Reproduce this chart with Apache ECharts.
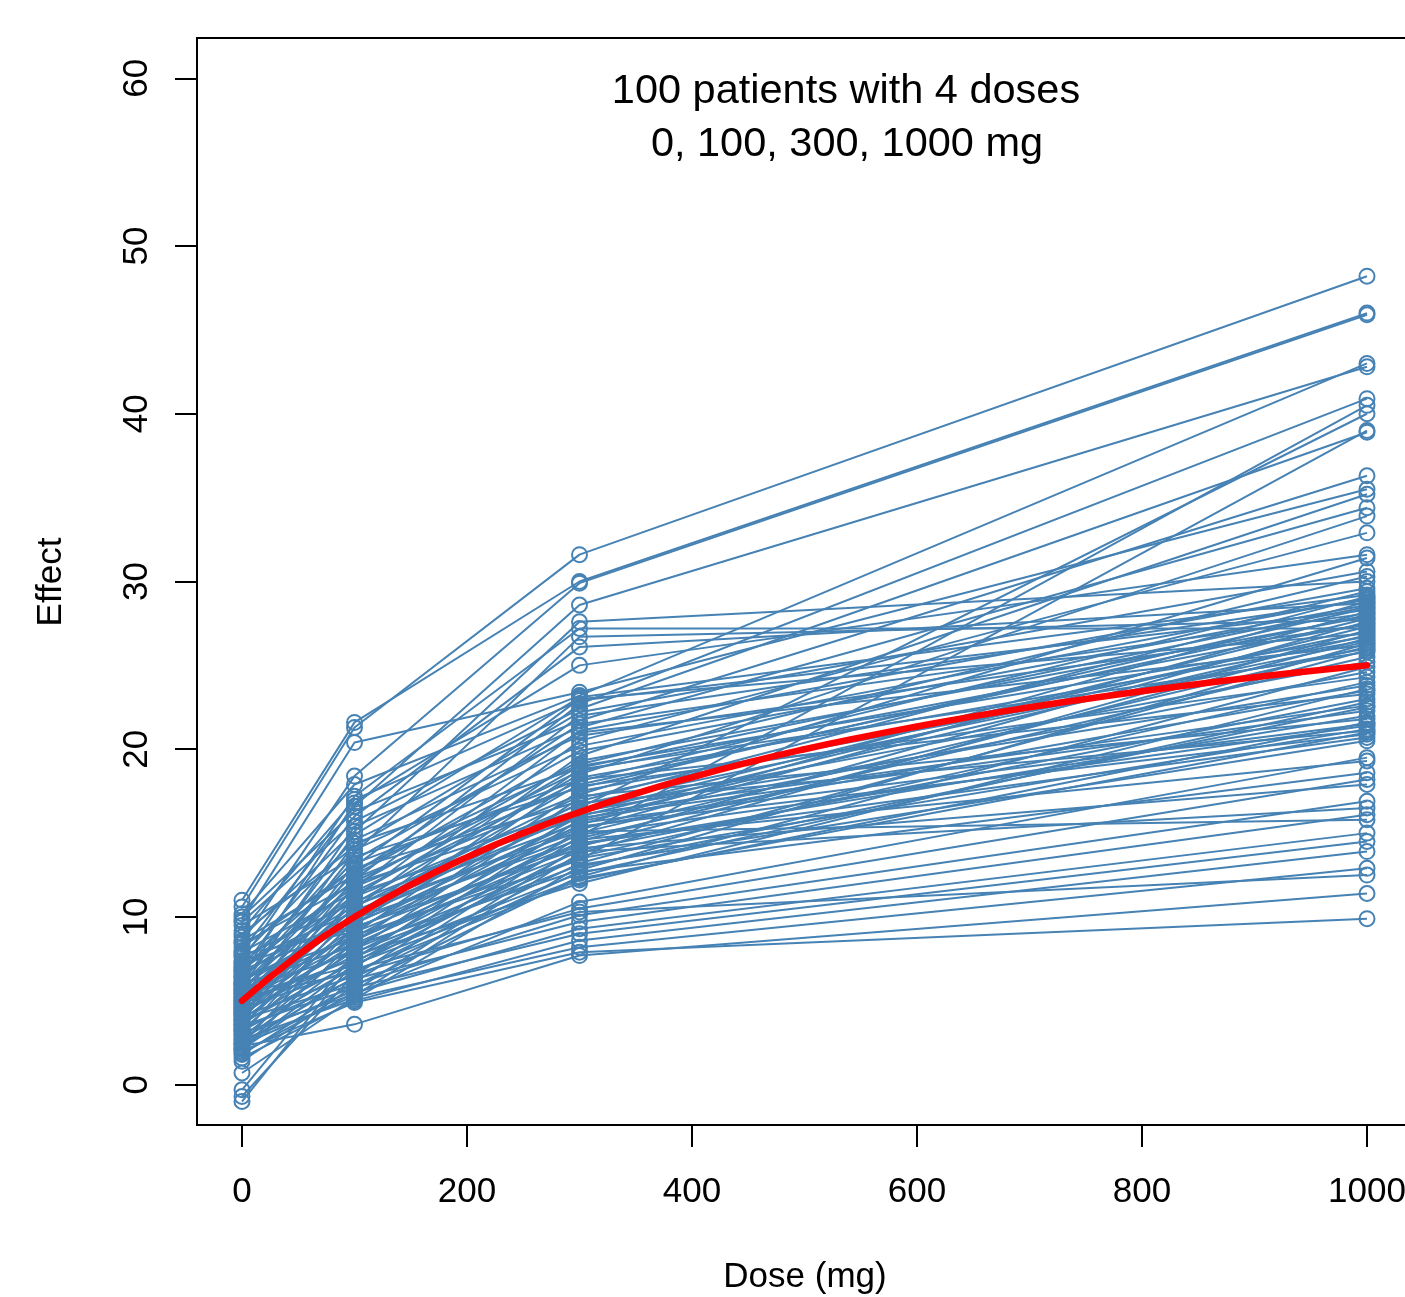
<!DOCTYPE html>
<html>
<head>
<meta charset="utf-8">
<script src="https://cdn.jsdelivr.net/npm/echarts@6/dist/echarts.min.js"></script>
<style>
  html, body { margin: 0; padding: 0; background: #fff; }
  #chart { width: 1405px; height: 1297px; }
</style>
</head>
<body>
<div id="chart"></div>
<script>
// doses on the x axis
const doses = [0, 100, 300, 1000]

// effect per patient (same patient order in every array)
const dose0 = [10.6, 11.0, 8.5, 10.2, 8.0, 6.8, 1.8, 4.4, 5.7, 9.7,
  10.0, 9.8, 4.0, 5.8, 5.0, 5.5, 6.5, 7.0, 9.0, 4.8,
  8.8, 6.05, 7.9, 6.1, 8.2, 6.7, 5.25, 2.8, 6.9, 8.6,
  5.1, 9.5, 9.2, 4.1, 5.95, 4.7, 3.8, 4.95, 5.45, 3.7,
  5.65, 7.7, 3.85, 7.4, 2.4, 3.6, 7.2, 3.2, 6.45, 2.9,
  3.25, 3.4, 6.0, 6.3, -0.3, 5.05, 5.2, 2.45, 2.15, 8.4,
  1.4, 6.2, 4.15, 4.75, 7.6, 4.35, 4.9, 4.5, 5.4, -1.0,
  7.3, 2.7, 4.6, 4.2, 4.3, 2.1, 6.6, 3.55, 2.6, 7.1,
  2.2, 5.9, 7.8, 5.6, 3.1, 5.3, 2.5, -0.7, 6.85, 3.9,
  6.4, 3.3, 3.0, 1.9, 3.5, 1.6, 0.7, 4.55, 2.3, 2.0]

const dose100 = [21.3, 21.6, 18.4, 17.9, 16.6, 12.2, 6.1, 9.2, 8.9, 15.7,
  16.3, 20.4, 10.0, 15.4, 10.8, 10.5, 16.8, 11.8, 14.2, 12.8,
  15.1, 11.1, 11.5, 14.9, 12.9, 14.0, 11.7, 8.2, 16.0, 12.5,
  14.4, 13.6, 17.0, 6.5, 12.6, 10.2, 11.9, 7.5, 13.8, 7.3,
  12.1, 14.6, 8.8, 17.2, 5.3, 8.0, 13.0, 7.0, 11.3, 5.6,
  9.0, 11.2, 8.3, 13.4, 7.8, 8.5, 6.7, 9.5, 8.6, 12.0,
  5.9, 9.6, 12.3, 8.1, 10.9, 7.7, 9.3, 13.2, 7.1, 7.4,
  10.3, 5.1, 11.4, 8.4, 10.6, 6.8, 10.7, 9.7, 7.6, 9.8,
  7.2, 10.1, 9.1, 7.9, 5.4, 9.9, 6.4, 6.6, 9.4, 6.0,
  8.7, 6.3, 10.4, 5.5, 5.8, 5.0, 5.2, 6.9, 3.6, 4.9]

const dose300 = [31.6, 30.0, 29.9, 23.2, 28.6, 22.7, 14.8, 16.5, 13.4, 22.4,
  21.7, 23.4, 19.6, 21.3, 18.5, 20.5, 25.0, 17.3, 22.2, 19.1,
  27.6, 21.1, 18.1, 23.1, 16.9, 20.2, 22.0, 15.5, 26.1, 19.9,
  18.9, 17.7, 22.9, 15.2, 21.5, 17.9, 19.3, 16.2, 26.7, 14.5,
  18.7, 20.8, 16.0, 27.2, 13.8, 17.1, 23.0, 15.8, 19.0, 14.2,
  18.3, 16.7, 12.8, 21.0, 15.0, 17.5, 13.2, 18.8, 14.7, 16.4,
  12.4, 15.7, 17.8, 13.6, 16.3, 12.0, 15.3, 18.2, 14.0, 12.6,
  16.1, 13.0, 15.9, 14.3, 17.2, 12.2, 15.6, 14.9, 13.5, 16.8,
  12.3, 15.4, 14.4, 13.1, 10.9, 14.6, 12.7, 10.5, 14.1, 10.1,
  13.9, 9.7, 15.1, 9.3, 9.0, 8.6, 8.2, 10.3, 7.7, 7.9]

const dose1000 = [48.2, 46.0, 45.9, 43.0, 42.8, 40.9, 40.5, 40.0, 39.0, 38.9,
  36.3, 35.5, 35.2, 34.4, 33.9, 32.9, 31.6, 31.4, 30.6, 30.3,
  30.0, 29.6, 29.4, 29.2, 29.1, 29.0, 28.9, 28.8, 28.7, 28.6,
  28.5, 28.4, 28.3, 28.2, 28.1, 28.0, 27.9, 27.8, 27.7, 27.6,
  27.5, 27.4, 27.3, 27.2, 27.1, 27.0, 26.9, 26.8, 26.7, 26.6,
  26.5, 26.4, 26.3, 26.2, 26.1, 26.0, 25.9, 25.8, 25.5, 25.2,
  24.9, 24.6, 24.3, 24.0, 23.8, 23.6, 23.5, 23.3, 23.0, 22.8,
  22.6, 22.5, 22.3, 22.0, 21.8, 21.6, 21.5, 21.4, 21.2, 21.1,
  21.0, 20.9, 20.7, 20.5, 19.5, 19.3, 18.6, 18.2, 17.9, 16.9,
  16.5, 16.1, 15.8, 15.0, 14.5, 13.9, 12.9, 12.5, 11.4, 9.9]

// mean curve (red)
const curveDose = [0, 50, 100, 150, 200, 250, 300, 350, 400, 450, 500, 550, 600, 650, 700, 750, 800, 850, 900, 950, 1000]
const curveEffect = [5.00, 7.73, 10.00, 11.92, 13.57, 15.00, 16.25, 17.35, 18.33, 19.21, 20.00,
  20.71, 21.36, 21.96, 22.50, 23.00, 23.46, 23.89, 24.29, 24.66, 25.00]

const xTicks = [0, 200, 400, 600, 800, 1000]
const yTicks = [0, 10, 20, 30, 40, 50, 60]

const font = 'Liberation Sans, Arial, Helvetica, sans-serif'
const blue = '#4682B4'

const chart = echarts.init(document.getElementById('chart'), null, { renderer: 'canvas' })

const series = dose0.map((v, i) => ({
  type: 'line',
  silent: true,
  data: [dose0[i], dose100[i], dose300[i], dose1000[i]].map((y, k) => [doses[k], y]),
  symbol: 'circle',
  symbolSize: 15,
  itemStyle: { color: 'rgba(0,0,0,0)', borderColor: blue, borderWidth: 2 },
  lineStyle: { color: blue, width: 2 },
  z: 2
}))

series.push({
  type: 'line',
  silent: true,
  data: curveDose.map((d, i) => [d, curveEffect[i]]),
  symbol: 'none',
  smooth: true,
  lineStyle: { color: '#ff0000', width: 6.5, cap: 'round' },
  z: 3
})

chart.setOption({
  animation: false,
  backgroundColor: '#fff',
  grid: {
    left: 197,
    top: 38,
    width: 1215,
    height: 1087,
    outerBoundsMode: 'none',
    containLabel: false,
    show: true,
    borderColor: '#000',
    borderWidth: 2,
    backgroundColor: 'transparent'
  },
  xAxis: {
    type: 'value',
    min: -40,
    max: 1040,
    axisLine: { show: false, onZero: false },
    splitLine: { show: false },
    axisTick: {
      show: true,
      customValues: xTicks,
      length: 22,
      lineStyle: { color: '#000', width: 2 }
    },
    axisLabel: {
      customValues: xTicks,
      formatter: v => String(v),
      fontSize: 35,
      fontFamily: font,
      color: '#000',
      margin: 50
    }
  },
  yAxis: {
    type: 'value',
    min: -2.4,
    max: 62.4,
    axisLine: { show: false, onZero: false },
    splitLine: { show: false },
    axisTick: {
      show: true,
      customValues: yTicks,
      length: 22,
      lineStyle: { color: '#000', width: 2 }
    },
    axisLabel: {
      customValues: yTicks,
      formatter: v => String(v),
      rotate: 90,
      fontSize: 35,
      fontFamily: font,
      color: '#000',
      margin: 42
    }
  },
  graphic: [
    {
      type: 'text', x: 846, y: 92,
      style: { text: '100 patients with 4 doses', fontSize: 41.5, fontFamily: font, fill: '#000', align: 'center', verticalAlign: 'middle' }
    },
    {
      type: 'text', x: 847, y: 145,
      style: { text: '0, 100, 300, 1000 mg', fontSize: 41.5, fontFamily: font, fill: '#000', align: 'center', verticalAlign: 'middle' }
    },
    {
      type: 'text', x: 805, y: 1277,
      style: { text: 'Dose (mg)', fontSize: 35, fontFamily: font, fill: '#000', align: 'center', verticalAlign: 'middle' }
    },
    {
      type: 'text', x: 51, y: 582, rotation: Math.PI / 2,
      style: { text: 'Effect', fontSize: 35, fontFamily: font, fill: '#000', align: 'center', verticalAlign: 'middle' }
    }
  ],
  series: series
})
</script>
</body>
</html>
